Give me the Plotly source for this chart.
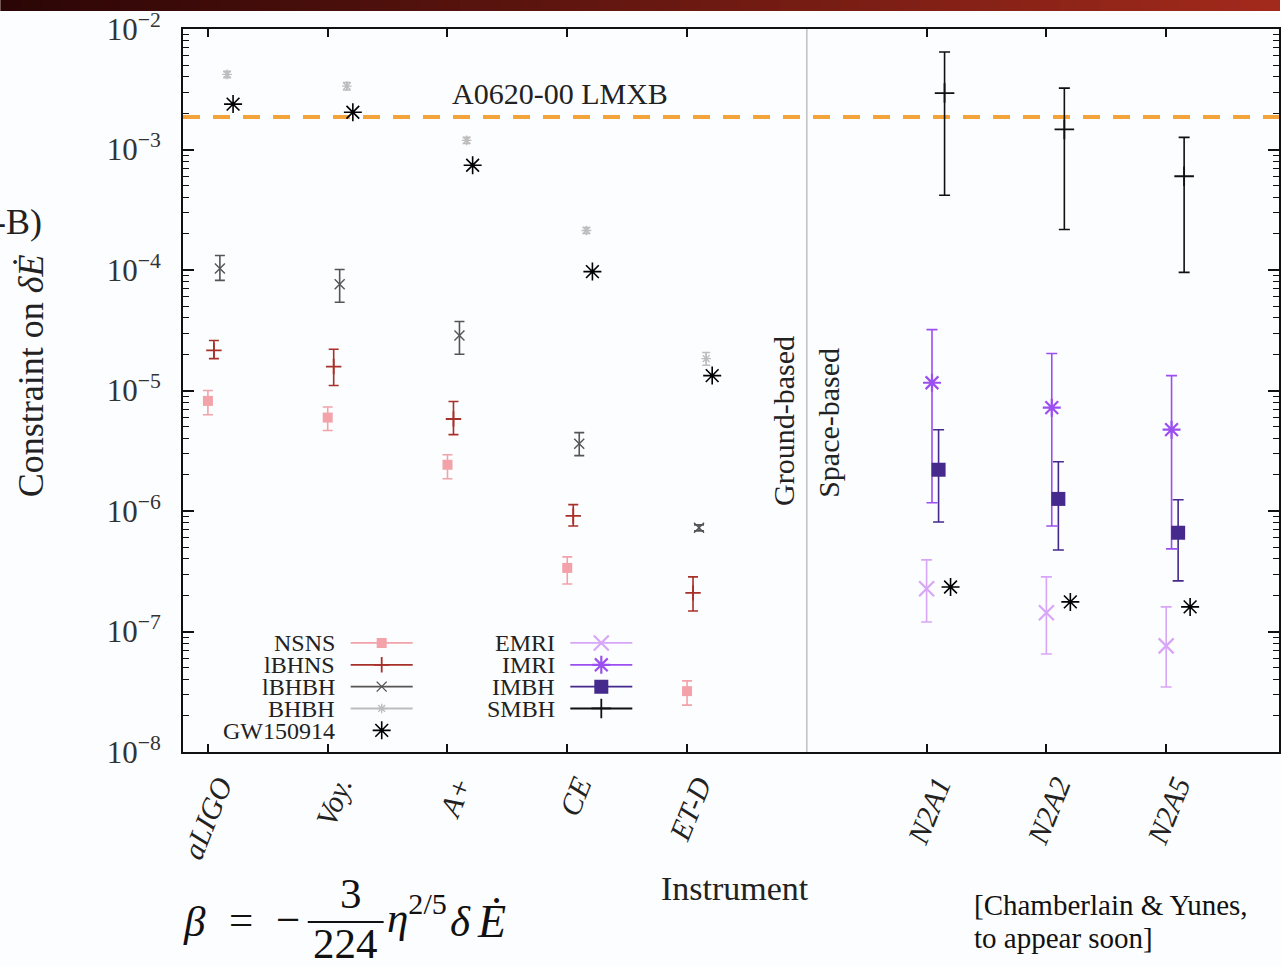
import plotly.graph_objects as go

# ---------------- data ----------------
ground_instruments = ["aLIGO", "Voy.", "A+", "CE", "ET-D"]
space_instruments = ["N2A1", "N2A2", "N2A5"]

# ground-based sources: central value, upper and lower end of the error bar
nsns_val = [8.2e-6, 5.96e-6, 2.42e-6, 3.37e-7, 3.2e-8]
nsns_hi = [1.0e-5, 7.3e-6, 2.93e-6, 4.16e-7, 3.89e-8]
nsns_lo = [6.3e-6, 4.65e-6, 1.85e-6, 2.48e-7, 2.45e-8]

lbhns_val = [2.15e-5, 1.58e-5, 5.8e-6, 9.1e-7, 2.09e-7]
lbhns_hi = [2.6e-5, 2.2e-5, 8.1e-6, 1.13e-6, 2.84e-7]
lbhns_lo = [1.84e-5, 1.1e-5, 4.3e-6, 7.5e-7, 1.48e-7]

lbhbh_val = [1.03e-4, 7.6e-5, 2.86e-5, 3.62e-6, 7.25e-7]
lbhbh_hi = [1.32e-4, 1.01e-4, 3.74e-5, 4.47e-6, 7.67e-7]
lbhbh_lo = [8.2e-5, 5.4e-5, 2.0e-5, 2.88e-6, 6.84e-7]

bhbh_val = [4.2e-3, 3.36e-3, 1.19e-3, 2.13e-4, 1.84e-5]
bhbh_hi = [4.45e-3, 3.6e-3, 1.26e-3, 2.25e-4, 2.07e-5]
bhbh_lo = [3.95e-3, 3.12e-3, 1.12e-3, 2.01e-4, 1.62e-5]

gw_ground_val = [2.38e-3, 2.04e-3, 7.4e-4, 9.7e-5, 1.33e-5]
gw_space_val = [2.34e-7, 1.76e-7, 1.6e-7]

# space-based sources
emri_val = [2.26e-7, 1.43e-7, 7.6e-8]
emri_hi = [3.93e-7, 2.84e-7, 1.6e-7]
emri_lo = [1.2e-7, 6.5e-8, 3.46e-8]

imri_val = [1.16e-5, 7.2e-6, 4.73e-6]
imri_hi = [3.2e-5, 2.03e-5, 1.33e-5]
imri_lo = [1.17e-6, 7.5e-7, 4.85e-7]

imbh_val = [2.2e-6, 1.26e-6, 6.6e-7]
imbh_hi = [4.73e-6, 2.56e-6, 1.24e-6]
imbh_lo = [8.1e-7, 4.75e-7, 2.63e-7]

smbh_val = [2.94e-3, 1.47e-3, 6.0e-4]
smbh_hi = [6.44e-3, 3.23e-3, 1.26e-3]
smbh_lo = [4.17e-4, 2.17e-4, 9.55e-5]

lmxb_bound = 1.86e-3
y_exponents = [-8, -7, -6, -5, -4, -3, -2]

# ---------------- layout helpers ----------------
W, H = 1281, 966
L, R, T, B = 183, 0, 29, 214
PW, PH = W - L - R, H - T - B
SERIF = "Liberation Serif"
TXT = "#222222"
BG = "#fcfdfe"


def px(xp):
    return (xp - L) / PW


def py(yp):
    return 1 - (yp - T) / PH


# numeric positions of the instruments (a gap slot separates ground / space)
ground_pos = [i + 1 for i in range(len(ground_instruments))]
gap_pos = len(ground_instruments) + 1
space_pos = [gap_pos + 1 + i for i in range(len(space_instruments))]


def shift(pos, d):
    return [p + d for p in pos]


def errs(val, hi, lo):
    return dict(type="data", symmetric=False,
                array=[h - v for h, v in zip(hi, val)],
                arrayminus=[v - l for v, l in zip(val, lo)])


fig = go.Figure()


def add_series(name, xs, val, hi, lo, color, symbol, size, lw, legend, cap=5, ethick=1.6,
               legend_line=True):
    marker = dict(symbol=symbol, size=size, color=color, line=dict(color=color, width=lw))
    kw = dict(x=xs, y=val, mode="markers", marker=marker, showlegend=False, name=name,
              hoverinfo="name+y")
    if hi is not None:
        e = errs(val, hi, lo)
        e.update(color=color, thickness=ethick, width=cap)
        kw["error_y"] = e
    fig.add_trace(go.Scatter(**kw))
    # legend key (no data); its label is drawn as text to the left of the key
    fig.add_trace(go.Scatter(x=[None], y=[None], name="", legend=legend,
                             mode="lines+markers" if legend_line else "markers",
                             line=dict(color=color, width=1.8), marker=marker,
                             showlegend=True, hoverinfo="skip"))


C_NSNS = "#f2a2a8"
C_LBHNS = "#a8302a"
C_LBHBH = "#555555"
C_BHBH = "#bdbdbd"
C_EMRI = "#d8a6f8"
C_IMRI = "#9b4ff0"
C_IMBH = "#45298c"
C_SMBH = "#111111"

add_series("NSNS", shift(ground_pos, 0.0), nsns_val, nsns_hi, nsns_lo, C_NSNS, "square", 10, 0, "legend")
add_series("lBHNS", shift(ground_pos, 0.05), lbhns_val, lbhns_hi, lbhns_lo, C_LBHNS, "cross-thin", 11, 1.8, "legend")
add_series("lBHBH", shift(ground_pos, 0.10), lbhbh_val, lbhbh_hi, lbhbh_lo, C_LBHBH, "x-thin", 10, 1.4, "legend")
add_series("BHBH", shift(ground_pos, 0.16), bhbh_val, bhbh_hi, bhbh_lo, C_BHBH, "asterisk", 8, 1.4, "legend", cap=4)
add_series("GW150914", shift(ground_pos, 0.21) + shift(space_pos, 0.20), gw_ground_val + gw_space_val,
           None, None, "#000000", "asterisk", 15, 1.6, "legend", legend_line=False)

add_series("EMRI", shift(space_pos, 0.0), emri_val, emri_hi, emri_lo, C_EMRI, "x-thin", 15, 2.2, "legend2", cap=5.5)
add_series("IMRI", shift(space_pos, 0.045), imri_val, imri_hi, imri_lo, C_IMRI, "asterisk", 15, 2.2, "legend2", cap=5.5)
add_series("IMBH", shift(space_pos, 0.10), imbh_val, imbh_hi, imbh_lo, C_IMBH, "square", 14, 0, "legend2", cap=5.5)
add_series("SMBH", shift(space_pos, 0.15), smbh_val, smbh_hi, smbh_lo, C_SMBH, "cross-thin", 14, 1.8, "legend2", cap=5.5)

# reference line and ground/space divider
fig.add_hline(y=lmxb_bound, line=dict(color="#f4a23a", width=4, dash="17px,13px"), layer="below")
fig.add_vline(x=gap_pos, line=dict(color="#c4c4c4", width=1.6), layer="below")

minor_vals = [m * 10.0 ** e for e in y_exponents[:-1] for m in range(2, 10)]

legend_common = dict(xanchor="left", yanchor="top", bgcolor="rgba(0,0,0,0)",
                     itemwidth=62, font=dict(size=14.5), tracegroupgap=0,
                     borderwidth=0, itemclick=False, itemdoubleclick=False)

fig.update_layout(
    width=W, height=H,
    margin=dict(l=L, r=R, t=T, b=B),
    paper_bgcolor=BG, plot_bgcolor=BG,
    font=dict(family=SERIF, color=TXT, size=26),
    xaxis=dict(
        range=[ground_pos[0] - 0.208, ground_pos[0] - 0.208 + PW / 120.0],
        tickmode="array",
        tickvals=ground_pos + space_pos,
        ticktext=[f"<i>{t}</i>" for t in ground_instruments + space_instruments],
        tickangle=-68, ticks="inside", ticklen=8, tickwidth=1.5, tickcolor="#111",
        showline=True, linecolor="#111", linewidth=2, mirror="ticks",
        showgrid=False, zeroline=False, ticklabelstandoff=2, ticklabelshift=11,
        tickfont=dict(family=SERIF, size=30, color=TXT),
    ),
    yaxis=dict(
        type="log", range=[y_exponents[0], y_exponents[-1]],
        tickmode="array",
        tickvals=[10.0 ** e for e in y_exponents],
        ticktext=[f"10<sup>−{-e}</sup>" for e in y_exponents],
        ticks="inside", ticklen=11, tickwidth=1.5, tickcolor="#111",
        minor=dict(tickmode="array", tickvals=minor_vals, ticks="inside", ticklen=6,
                   tickwidth=1.3, tickcolor="#111", showgrid=False),
        showline=True, linecolor="#111", linewidth=2, mirror="allticks",
        showgrid=False, zeroline=False, ticklabelstandoff=14,
        tickfont=dict(family=SERIF, size=31, color="#333"),
    ),
    showlegend=True,
    legend=dict(x=px(346), y=py(627), **legend_common),
    legend2=dict(x=px(566), y=py(627), **legend_common),
)

ann = []
# legend labels (text to the left of the keys)
rows = [643, 665, 687, 709, 731]
for name, yy in zip(["NSNS", "lBHNS", "lBHBH", "BHBH", "GW150914"], rows):
    ann.append(dict(x=px(337), y=py(yy), text=name, xanchor="right", yanchor="middle",
                    font=dict(size=24)))
for name, yy in zip(["EMRI", "IMRI", "IMBH", "SMBH"], rows):
    ann.append(dict(x=px(558), y=py(yy), text=name, xanchor="right", yanchor="middle",
                    font=dict(size=24)))

F = 43
ann += [
    dict(x=px(450), y=py(93), text="A0620-00 LMXB", xanchor="left", yanchor="middle", font=dict(size=30)),
    dict(x=px(784), y=py(421), text="Ground-based", textangle=-90, xanchor="center", yanchor="middle",
         font=dict(size=30)),
    dict(x=px(830), y=py(423), text="Space-based", textangle=-90, xanchor="center", yanchor="middle",
         font=dict(size=30)),
    dict(x=px(31), y=py(376), text="Constraint on <i>δĖ</i>", textangle=-90, xanchor="center",
         yanchor="middle", font=dict(size=36)),
    dict(x=px(44), y=py(222), text="-B)", xanchor="right", yanchor="middle", font=dict(size=36)),
    dict(x=px(736), y=py(888), text="Instrument", xanchor="center", yanchor="middle", font=dict(size=34)),
    dict(x=px(973), y=py(905), text="[Chamberlain &amp; Yunes,", xanchor="left", yanchor="middle",
         font=dict(size=29, color="#111")),
    dict(x=px(973), y=py(938), text="to appear soon]", xanchor="left", yanchor="middle",
         font=dict(size=29, color="#111")),
    # formula  beta = -(3/224) eta^{2/5} dE
    dict(x=px(195), y=py(921), text="<i>β</i>", xanchor="center", yanchor="middle", font=dict(size=F)),
    dict(x=px(241), y=py(919), text="=", xanchor="center", yanchor="middle", font=dict(size=F)),
    dict(x=px(288), y=py(919), text="−", xanchor="center", yanchor="middle", font=dict(size=F)),
    dict(x=px(351), y=py(893), text="3", xanchor="center", yanchor="middle", font=dict(size=F)),
    dict(x=px(346), y=py(943), text="224", xanchor="center", yanchor="middle", font=dict(size=F)),
    dict(x=px(385), y=py(914), text="<i>η</i><sup>2/5</sup>", xanchor="left", yanchor="middle",
         font=dict(size=F)),
    dict(x=px(461), y=py(921), text="<i>δ</i>", xanchor="center", yanchor="middle", font=dict(size=F)),
    dict(x=px(476), y=py(921), text="<i>Ė</i>", xanchor="left", yanchor="middle", font=dict(size=F + 3)),
]
for a in ann:
    a.update(xref="paper", yref="paper", showarrow=False)
    a.setdefault("font", {})
    a["font"].setdefault("family", SERIF)
    a["font"].setdefault("color", "#111" if a["font"].get("size", 0) >= F else TXT)
fig.update_layout(annotations=ann)

shapes = [dict(type="line", xref="paper", yref="paper", x0=px(308), x1=px(384), y0=py(922), y1=py(922),
               line=dict(color="#111", width=2))]
# slide title bar gradient at the very top
nseg = 64
c0, c1 = (44, 6, 6), (162, 42, 28)
for i in range(nseg):
    f = i / (nseg - 1)
    col = "rgb({},{},{})".format(*[int(a + (b - a) * f) for a, b in zip(c0, c1)])
    shapes.append(dict(type="rect", xref="paper", yref="paper",
                       x0=px(i * W / nseg), x1=px((i + 1) * W / nseg + 1), y0=py(11), y1=py(-2),
                       fillcolor=col, line=dict(width=0), layer="above"))
fig.update_layout(shapes=list(fig.layout.shapes) + shapes)

fig.write_html("out.html", config={"displayModeBar": False},
               post_script="document.body.style.margin='0';document.body.style.background='%s';" % BG)
